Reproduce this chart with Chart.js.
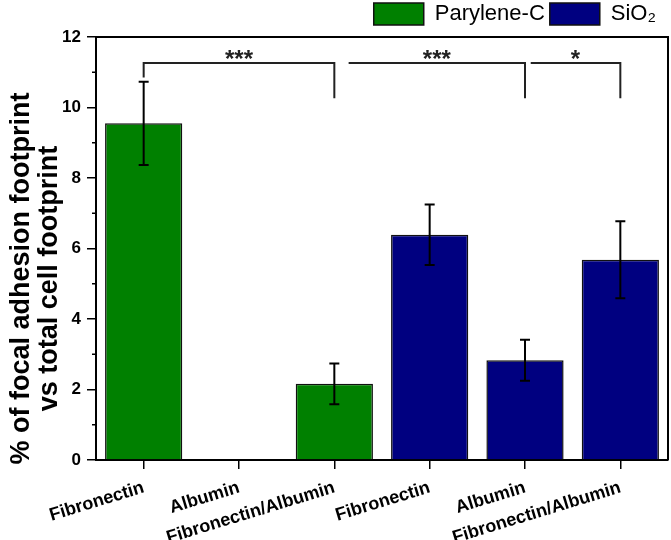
<!DOCTYPE html>
<html>
<head>
<meta charset="utf-8">
<script src="https://cdn.jsdelivr.net/npm/chart.js@4.4.1/dist/chart.umd.min.js"></script>
<style>
    html, body { margin: 0; padding: 0; background: #fff; }
    #wrap { width: 671px; height: 540px; }
</style>
</head>
<body>
<div id="wrap"><canvas id="chart" width="671" height="540"></canvas></div>
<script>
// categories along the x axis
const categories = ['Fibronectin', 'Albumin', 'Fibronectin/Albumin', 'Fibronectin', 'Albumin', 'Fibronectin/Albumin'];

// mean values (null where the series has no bar)
const paryleneValues = [9.55, 0, 2.16, null, null, null];
const sio2Values = [null, null, null, 6.39, 2.83, 5.68];

// error bar half-lengths
const paryleneErrors = [1.18, 0, 0.58, null, null, null];
const sio2Errors = [null, null, null, 0.86, 0.58, 1.09];

// y ticks
const yMajorTicks = [0, 2, 4, 6, 8, 10, 12];
const yMinorTicks = [1, 3, 5, 7, 9, 11];

// significance brackets: start / end in category units, heights in data units
const brackets = [
    { from: 0, to: 2, top: 11.26, leftDrop: 10.85, rightDrop: 10.26, label: '***' },
    { from: 2.15, to: 4, top: 11.26, leftDrop: 11.26, rightDrop: 10.26, label: '***' },
    { from: 4.06, to: 5, top: 11.26, leftDrop: 11.26, rightDrop: 10.26, label: '*' }
];

const FONT = 'Arial, "Liberation Sans", sans-serif';

// the original title sits a bit below the middle of the axis, trailing spaces push it down
const titlePad = '        ';

// draws error bars, brackets, minor ticks and the frame
const extrasPlugin = {
    id: 'extras',
    afterLayout(chart) {
        // nudge the legend to sit where the original one does
        const lg = chart.legend;
        if (lg) {
            lg.left -= 7;
            lg.right -= 7;
            lg.top -= 2;
            lg.bottom -= 2;
        }
    },
    afterDatasetsDraw(chart) {
        const ctx = chart.ctx;
        const x = chart.scales.x;
        const y = chart.scales.y;
        const area = chart.chartArea;

        ctx.save();
        // error bars
        ctx.strokeStyle = '#000';
        ctx.lineWidth = 2;
        const series = [[paryleneValues, paryleneErrors], [sio2Values, sio2Errors]];
        series.forEach(([vals, errs]) => {
            vals.forEach((v, i) => {
                if (v === null || !errs[i]) return;
                const px = x.getPixelForValue(i);
                const top = y.getPixelForValue(v + errs[i]);
                const bot = y.getPixelForValue(v - errs[i]);
                ctx.beginPath();
                ctx.moveTo(px, top); ctx.lineTo(px, bot);
                ctx.moveTo(px - 5, top); ctx.lineTo(px + 5, top);
                ctx.moveTo(px - 5, bot); ctx.lineTo(px + 5, bot);
                ctx.stroke();
            });
        });

        // brackets
        ctx.strokeStyle = '#222';
        ctx.lineWidth = 2;
        ctx.fillStyle = '#222';
        ctx.font = 'bold 24px ' + FONT;
        ctx.textAlign = 'center';
        ctx.textBaseline = 'alphabetic';
        brackets.forEach(b => {
            const x1 = x.getPixelForValue(b.from);
            const x2 = x.getPixelForValue(b.to);
            const yt = y.getPixelForValue(b.top);
            ctx.beginPath();
            ctx.moveTo(x1, y.getPixelForValue(b.leftDrop));
            ctx.lineTo(x1, yt);
            ctx.lineTo(x2, yt);
            ctx.lineTo(x2, y.getPixelForValue(b.rightDrop));
            ctx.stroke();
            ctx.fillText(b.label, (x1 + x2) / 2, yt + 4);
        });

        // minor y ticks
        ctx.strokeStyle = '#000';
        ctx.lineWidth = 1.5;
        yMinorTicks.forEach(t => {
            const py = y.getPixelForValue(t);
            ctx.beginPath();
            ctx.moveTo(area.left - 4, py);
            ctx.lineTo(area.left, py);
            ctx.stroke();
        });

        // frame top and right
        ctx.lineWidth = 2;
        ctx.beginPath();
        ctx.moveTo(area.left, area.top);
        ctx.lineTo(area.right, area.top);
        ctx.lineTo(area.right, area.bottom);
        ctx.stroke();
        ctx.restore();
    }
};

const ctx = document.getElementById('chart').getContext('2d');
new Chart(ctx, {
    type: 'bar',
    data: {
        labels: categories,
        datasets: [
            {
                label: 'Parylene-C',
                data: paryleneValues,
                backgroundColor: '#008000',
                borderColor: '#111',
                borderWidth: 1.5,
                borderSkipped: 'bottom',
                grouped: false,
                barPercentage: 0.81,
                categoryPercentage: 1
            },
            {
                label: 'SiO\u2082',
                data: sio2Values,
                backgroundColor: '#000080',
                borderColor: '#111',
                borderWidth: 1.5,
                borderSkipped: 'bottom',
                grouped: false,
                barPercentage: 0.81,
                categoryPercentage: 1
            }
        ]
    },
    options: {
        responsive: false,
        animation: false,
        devicePixelRatio: 1,
        layout: { padding: { top: 0, right: 3, left: 0, bottom: 0 } },
        plugins: {
            legend: {
                position: 'top',
                align: 'end',
                labels: {
                    boxWidth: 50,
                    boxHeight: 22,
                    padding: 5,
                    color: '#000',
                    font: { family: FONT, size: 22 }
                }
            },
            tooltip: { enabled: false }
        },
        scales: {
            x: {
                grid: { display: true, offset: false, drawOnChartArea: false, drawTicks: true, tickLength: 9, color: '#000', lineWidth: 1.5 },
                border: { display: true, color: '#000', width: 2 },
                ticks: {
                    color: '#000',
                    font: { family: FONT, size: 18, weight: 'bold' },
                    minRotation: 17,
                    maxRotation: 17,
                    padding: 8,
                    autoSkip: false
                },
                afterFit(scale) { scale.height = 80; }
            },
            y: {
                min: 0,
                max: 12,
                afterBuildTicks(scale) {
                    scale.ticks = yMajorTicks.map(v => ({ value: v }));
                },
                grid: { display: true, drawOnChartArea: false, drawTicks: true, tickLength: 9, color: '#000', lineWidth: 1.5 },
                border: { display: true, color: '#000', width: 2 },
                ticks: {
                    color: '#000',
                    font: { family: FONT, size: 17, weight: 'bold' },
                    padding: 6
                },
                title: {
                    display: true,
                    text: ['% of focal adhesion footprint' + titlePad, 'vs total cell footprint' + titlePad],
                    color: '#000',
                    font: { family: FONT, size: 27, weight: 'bold', lineHeight: '28px' },
                    padding: { top: 8, bottom: 0 }
                },
                afterFit(scale) { scale.width = 96; }
            }
        }
    },
    plugins: [extrasPlugin]
});
</script>
</body>
</html>
